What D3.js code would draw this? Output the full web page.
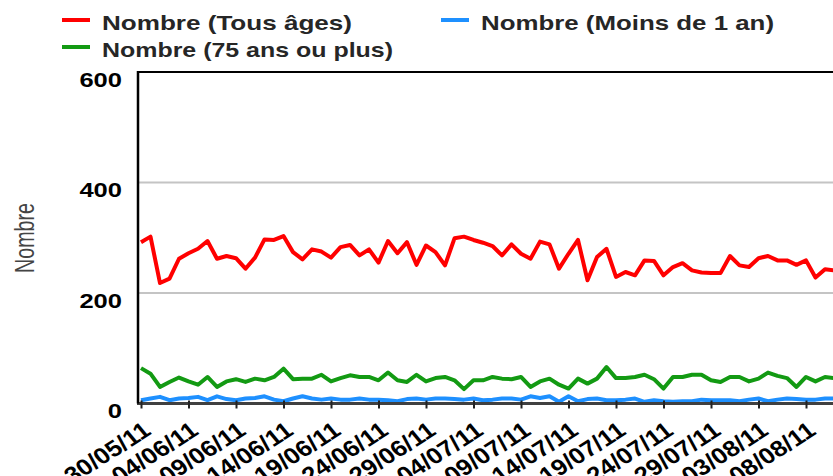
<!DOCTYPE html>
<html>
<head>
<meta charset="utf-8">
<script src="https://cdn.jsdelivr.net/npm/d3@7"></script>
<style>
  body { margin: 0; background: #fff; }
  svg { display: block; font-family: Arial, "Liberation Sans", sans-serif; }
</style>
</head>
<body>
<div id="chart"></div>
<script>
// daily counts, 30/05/11 -> 11/08/11
const startDate = "2011-05-30";
const tousAges = [292, 302, 218, 226, 262, 272, 280, 294, 262, 267, 263, 244, 264, 297, 296, 303,
  274, 261, 279, 275, 264, 283, 287, 268, 279, 255, 294, 272, 292, 251, 286, 274, 250, 299, 302, 296,
  291, 285, 268, 288, 271, 262, 293, 288, 244, 271, 296, 223, 265, 280, 229, 238, 232, 259, 258, 232,
  247, 254, 241, 237, 236, 236, 267, 250, 247, 263, 267, 259, 259, 251, 259, 228, 243, 241];
const moinsUnAn = [6, 9, 12, 6, 9, 10, 12, 6, 13, 8, 6, 9, 10, 13, 7, 4, 9, 13, 9, 7, 9, 7, 7, 9,
  7, 7, 6, 4, 8, 9, 7, 9, 9, 8, 7, 9, 6, 7, 9, 9, 7, 13, 10, 13, 3, 13, 4, 8, 9, 6, 6, 7, 9, 3, 6,
  4, 3, 4, 4, 7, 6, 6, 6, 4, 7, 9, 4, 7, 9, 8, 7, 7, 9, 9];
const plus75 = [64, 54, 30, 39, 47, 40, 34, 48, 30, 40, 44, 39, 45, 42, 48, 63, 44, 45, 45, 52, 40,
  46, 51, 48, 48, 42, 56, 42, 39, 52, 40, 46, 48, 42, 26, 42, 42, 48, 45, 44, 48, 30, 40, 45, 34, 27,
  45, 36, 45, 66, 46, 46, 48, 52, 44, 27, 48, 48, 52, 52, 42, 39, 48, 48, 40, 45, 56, 50, 46, 30, 48,
  40, 48, 46];
const yTicks = [0, 200, 400, 600];

const series = [
  { name: "Nombre (Tous âges)", values: tousAges, color: "#ff0000", lx: 62, ly: 20, tlen: 250 },
  { name: "Nombre (Moins de 1 an)", values: moinsUnAn, color: "#1e90ff", lx: 441, ly: 20, tlen: 293 },
  { name: "Nombre (75 ans ou plus)", values: plus75, color: "#139a13", lx: 62, ly: 47, tlen: 291 }
];

const width = 833, height = 476;
const parse = d3.timeParse("%Y-%m-%d");
const t0 = parse(startDate);
const dates = tousAges.map((d, i) => d3.timeDay.offset(t0, i));

const x = d3.scaleTime()
  .domain([t0, dates[dates.length - 1]])
  .range([141, 834.5]);
const y = d3.scaleLinear().domain([0, 600]).range([403.5, 72]);

const svg = d3.select("#chart").append("svg")
  .attr("width", width)
  .attr("height", height);

// grid
svg.append("g")
  .selectAll("line")
  .data(yTicks.filter(d => d > 0 && d < 600))
  .join("line")
  .attr("x1", 138).attr("x2", width)
  .attr("y1", d => y(d)).attr("y2", d => y(d))
  .attr("stroke", "#c4c4c4")
  .attr("stroke-width", 2);

// top border
svg.append("line")
  .attr("x1", 137).attr("x2", width)
  .attr("y1", y(600)).attr("y2", y(600))
  .attr("stroke", "#000").attr("stroke-width", 2);

// lines
const line = d3.line()
  .x((d, i) => x(dates[i]))
  .y(d => y(d));

svg.append("g")
  .selectAll("path")
  .data(series)
  .join("path")
  .attr("fill", "none")
  .attr("stroke", d => d.color)
  .attr("stroke-width", 4)
  .attr("stroke-linejoin", "round")
  .attr("d", d => line(d.values));

// x axis
const xTickVals = d3.range(0, dates.length, 5).map(i => dates[i]);
const xAxis = svg.append("g")
  .attr("transform", `translate(0,${y(0)})`)
  .call(d3.axisBottom(x).tickValues(xTickVals).tickSize(5).tickFormat(d3.timeFormat("%d/%m/%y")));
xAxis.select(".domain")
  .attr("d", `M137,0H${width}`)
  .attr("stroke", "#404040")
  .attr("stroke-width", 3);
xAxis.selectAll(".tick line")
  .attr("y1", -3)
  .attr("stroke", "#222")
  .attr("stroke-width", 2);
xAxis.selectAll(".tick text")
  .attr("fill", "#000")
  .attr("font-size", 22.5)
  .attr("font-weight", "bold")
  .attr("text-anchor", "end")
  .attr("y", 0)
  .attr("dy", 0)
  .attr("transform", "translate(11,30) scale(1.15,1) rotate(-36)");

// y axis
svg.append("line")
  .attr("x1", 138).attr("x2", 138)
  .attr("y1", y(600) - 1).attr("y2", y(0))
  .attr("stroke", "#000").attr("stroke-width", 2.5);

svg.append("g")
  .selectAll("text")
  .data(yTicks)
  .join("text")
  .attr("x", 122)
  .attr("y", d => y(d) + 14.5)
  .attr("text-anchor", "end")
  .attr("font-size", 20)
  .attr("font-weight", "bold")
  .attr("fill", "#000")
  .attr("textLength", d => String(d).length * 14.2)
  .attr("lengthAdjust", "spacingAndGlyphs")
  .text(d => d);

svg.append("text")
  .attr("transform", "translate(34,238) rotate(-90)")
  .attr("text-anchor", "middle")
  .attr("font-size", 28)
  .attr("fill", "#444")
  .attr("textLength", 70)
  .attr("lengthAdjust", "spacingAndGlyphs")
  .text("Nombre");

// legend
const legend = svg.append("g")
  .selectAll("g")
  .data(series)
  .join("g")
  .attr("transform", d => `translate(${d.lx},${d.ly})`);

legend.append("line")
  .attr("x1", 0).attr("x2", 28)
  .attr("stroke", d => d.color)
  .attr("stroke-width", 4);

legend.append("text")
  .attr("x", 40)
  .attr("y", 10)
  .attr("font-size", 21)
  .attr("font-weight", "bold")
  .attr("fill", "#262626")
  .attr("textLength", d => d.tlen)
  .attr("lengthAdjust", "spacingAndGlyphs")
  .text(d => d.name);
</script>
</body>
</html>
